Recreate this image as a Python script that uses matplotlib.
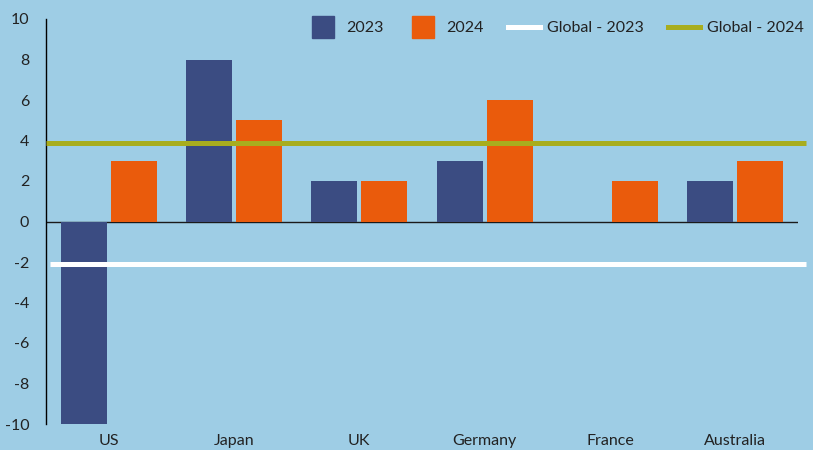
import matplotlib
matplotlib.use("Agg")
import matplotlib.pyplot as plt
import numpy as np
from matplotlib.lines import Line2D

# data
countries = ["US", "Japan", "UK", "Germany", "France", "Australia"]
values_2023 = [-10, 8, 2, 3, 0, 2]
values_2024 = [3, 5, 2, 6, 2, 3]
global_2023 = -2.1
global_2024 = 3.9

BG = "#9ECDE5"
BLUE = "#3B4C82"
ORANGE = "#EA5B0C"
OLIVE = "#A8AD1E"
TEXT = "#222222"

plt.rcParams["font.family"] = ["Lato", "DejaVu Sans"]
plt.rcParams["axes.unicode_minus"] = False

fig = plt.figure(figsize=(8.13, 4.5), dpi=100, facecolor=BG)
ax = fig.add_axes([46 / 813, 26 / 450, 752 / 813, 405 / 450])
ax.set_facecolor(BG)

x = np.arange(len(countries))
w = 0.367
ax.axhline(0, color="#1a1a1a", lw=1, zorder=1)
ax.bar(x - 0.2, values_2023, w, color=BLUE, zorder=2)
ax.bar(x + 0.2, values_2024, w, color=ORANGE, zorder=2)

ax.hlines(global_2023, -0.47, 5.56, color="white", lw=3.6, zorder=3, clip_on=False)
ax.hlines(global_2024, -0.5, 5.56, color=OLIVE, lw=3.6, zorder=3, clip_on=False)

ax.set_xlim(-0.5, 5.5)
ax.set_ylim(-10, 10)
ax.set_yticks(range(-10, 11, 2))
ax.set_xticks(x)
ax.set_xticklabels(countries)
ax.tick_params(axis="both", length=0, labelsize=11.5, labelcolor=TEXT)
ax.tick_params(axis="y", pad=12)
ax.tick_params(axis="x", pad=7)
for s in ["top", "right", "bottom"]:
    ax.spines[s].set_visible(False)
ax.spines["left"].set_color("black")
ax.spines["left"].set_linewidth(1)

handles = [
    Line2D([], [], marker="s", color=BLUE, markersize=16.5, linestyle="none"),
    Line2D([], [], marker="s", color=ORANGE, markersize=16.5, linestyle="none"),
    Line2D([], [], color="white", lw=3.6),
    Line2D([], [], color=OLIVE, lw=3.6),
]
labels = ["2023", "2024", "Global - 2023", "Global - 2024"]
leg = ax.legend(handles, labels, ncol=4, frameon=False, loc="upper right",
                bbox_to_anchor=(1.027, 1.03), fontsize=11.5, handlelength=2.0,
                handletextpad=0.45, columnspacing=1.5)
for t in leg.get_texts():
    t.set_color(TEXT)

fig.savefig("out.png", dpi=100, facecolor=BG)
